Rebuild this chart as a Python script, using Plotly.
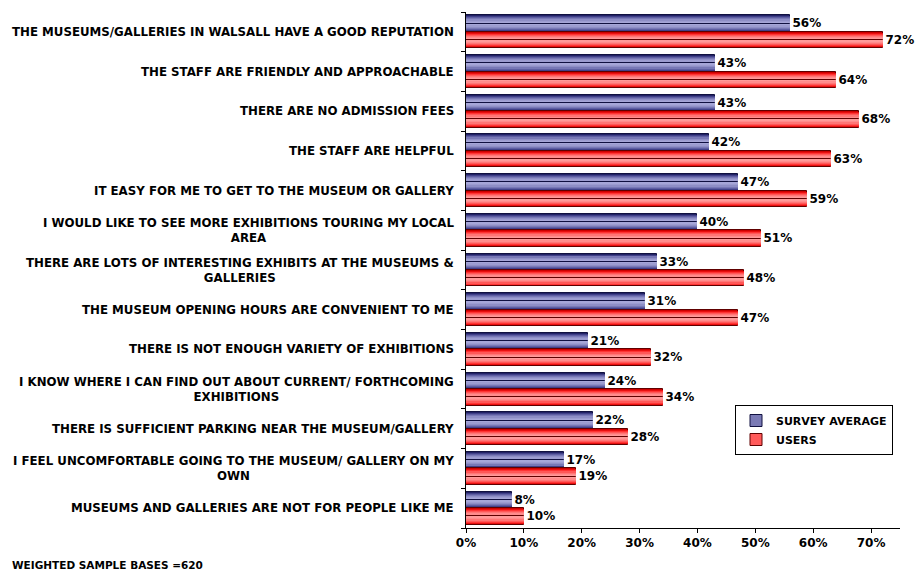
import plotly.graph_objects as go

categories = [
    "THE MUSEUMS/GALLERIES IN WALSALL HAVE A GOOD REPUTATION",
    "THE STAFF ARE FRIENDLY AND APPROACHABLE",
    "THERE ARE NO ADMISSION FEES",
    "THE STAFF ARE HELPFUL",
    "IT EASY FOR ME TO GET TO THE MUSEUM OR GALLERY",
    "I WOULD LIKE TO SEE MORE EXHIBITIONS TOURING MY LOCAL<br>AREA",
    "THERE ARE LOTS OF INTERESTING EXHIBITS AT THE MUSEUMS &<br>GALLERIES",
    "THE MUSEUM OPENING HOURS ARE CONVENIENT TO ME",
    "THERE IS NOT ENOUGH VARIETY OF EXHIBITIONS",
    "I KNOW WHERE I CAN FIND OUT ABOUT CURRENT/ FORTHCOMING<br>EXHIBITIONS",
    "THERE IS SUFFICIENT PARKING NEAR THE MUSEUM/GALLERY",
    "I FEEL UNCOMFORTABLE GOING TO THE MUSEUM/ GALLERY ON MY<br>OWN",
    "MUSEUMS AND GALLERIES ARE NOT FOR PEOPLE LIKE ME",
]
survey_average = [56, 43, 43, 42, 47, 40, 33, 31, 21, 24, 22, 17, 8]
users = [72, 64, 68, 63, 59, 51, 48, 47, 32, 34, 28, 19, 10]
x_ticks = [0, 10, 20, 30, 40, 50, 60, 70]

n = len(categories)
pos = [n - 1 - i for i in range(n)]  # first category at the top

FONT = "DejaVu Sans"
BAR_W = 0.415


def bold(size):
    return dict(family=FONT, size=size, color="#000000", weight="bold")


# shaded bars: stacked layers, darkest at the edge, lightest in the middle
blue_shades = ["#222266", "#404088", "#5e5ea2", "#7878b6", "#8e8ec6", "#9c9cd0", "#a6a6d8"]
red_shades = ["#cc0000", "#e81010", "#ff3434", "#ff5858", "#ff7676", "#ff8c8c", "#ff9a9a"]
layer_frac = [1.0, 0.88, 0.76, 0.64, 0.50, 0.36, 0.20]

fig = go.Figure()


def add_series(name, values, shades, offset, legend_color, edge):
    ys = [p + offset for p in pos]
    for k, (col, frac) in enumerate(zip(shades, layer_frac)):
        first = k == 0
        fig.add_trace(go.Bar(
            x=values, y=ys, orientation="h",
            width=BAR_W * frac,
            marker=dict(color=col,
                        line=dict(color=edge if first else col, width=1 if first else 0)),
            text=[f"{v}%" for v in values] if first else None,
            textposition="outside" if first else "none",
            textfont=bold(12), cliponaxis=False,
            showlegend=False, hoverinfo="skip",
            name=name,
        ))
    # legend entry drawn from the same series
    fig.add_trace(go.Bar(
        x=values, y=ys, orientation="h", width=0,
        marker=dict(color=legend_color, line=dict(color=edge, width=1)),
        name=name, showlegend=True, hoverinfo="skip",
    ))


add_series("SURVEY AVERAGE", survey_average, blue_shades, BAR_W / 2, "#7a7ab5", "#101040")
add_series("USERS", users, red_shades, -BAR_W / 2, "#ff5a5a", "#600000")

for p, label in zip(pos, categories):
    fig.add_annotation(
        x=0, xref="paper", y=p, yref="y", text=label,
        xanchor="right", yanchor="middle", align="center", xshift=-10,
        showarrow=False, font=bold(11.8),
    )

fig.add_annotation(
    x=0, xref="paper", xanchor="left", xshift=-456,
    y=0, yref="paper", yanchor="middle", yshift=-37,
    text="WEIGHTED SAMPLE BASES =620", showarrow=False,
    font=bold(10.5),
)

plot_w = 915 - 466 - 15
plot_h = 571 - 12 - 43

fig.update_layout(
    width=915, height=571,
    margin=dict(l=466, r=15, t=12, b=43),
    paper_bgcolor="#ffffff", plot_bgcolor="#ffffff",
    barmode="overlay", bargap=0,
    font=bold(11),
    xaxis=dict(
        range=[0, 75], tickvals=x_ticks, ticktext=[f"{t}%" for t in x_ticks],
        showgrid=False, zeroline=False, showline=True, linecolor="#000000", linewidth=1,
        ticks="outside", ticklen=4, tickcolor="#000000",
        tickfont=bold(12),
    ),
    yaxis=dict(
        range=[-0.5, n - 0.5], tickvals=[p + 0.5 for p in range(-1, n)],
        ticktext=[""] * (n + 1),
        showgrid=False, zeroline=False, showline=True, linecolor="#000000", linewidth=1,
        ticks="outside", ticklen=4, tickcolor="#000000",
    ),
    legend=dict(
        x=1 - 7 / plot_w, y=1 - (405 - 12) / plot_h,
        xanchor="right", yanchor="top",
        bgcolor="#ffffff", bordercolor="#000000", borderwidth=1,
        font=bold(11), tracegroupgap=0, itemwidth=30,
    ),
)

fig.write_html("out.html")
